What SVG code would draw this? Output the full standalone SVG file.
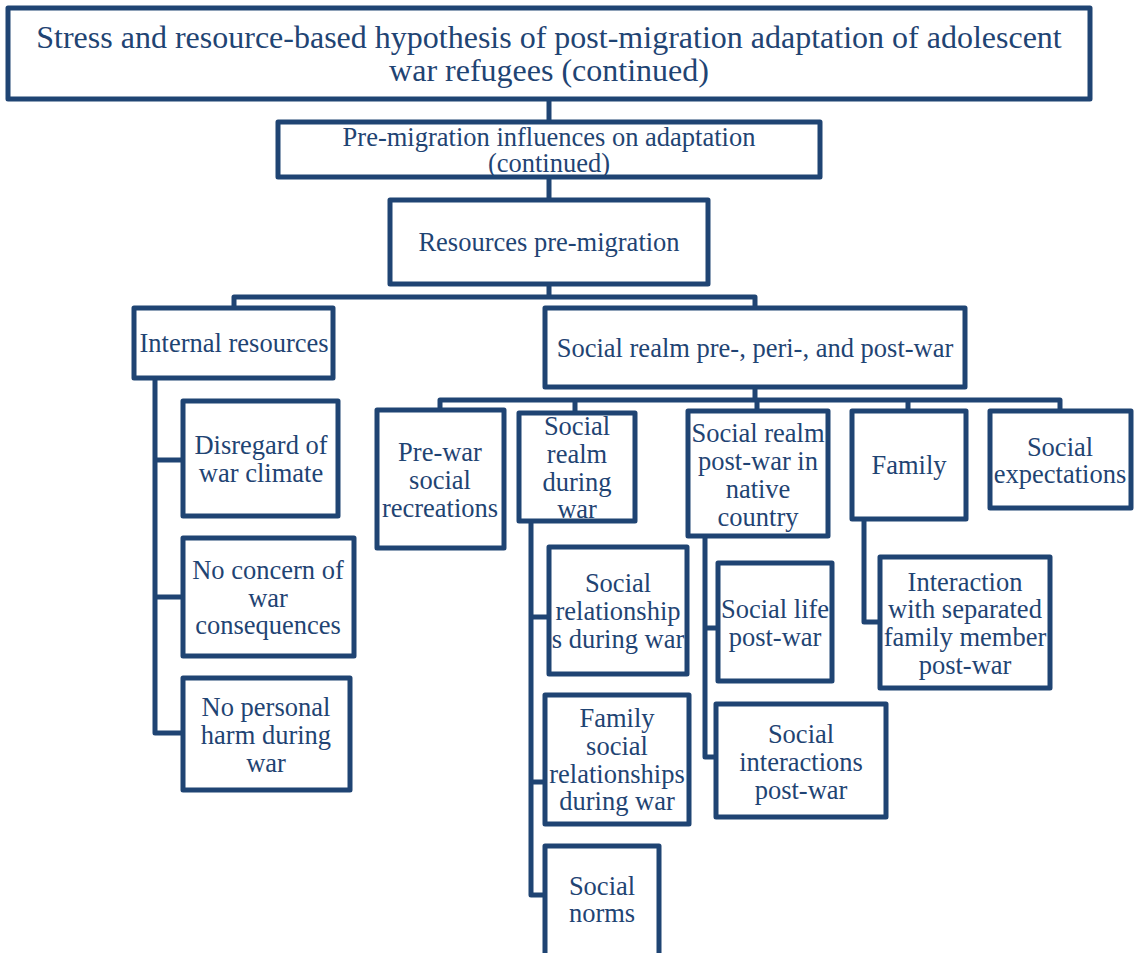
<svg xmlns="http://www.w3.org/2000/svg" width="1135" height="953" viewBox="0 0 1135 953">
  <style>
    .box { fill: #ffffff; stroke: #1F4473; stroke-width: 5; stroke-linejoin: round; }
    .wire { fill: none; stroke: #1F4473; stroke-width: 5; stroke-linejoin: round; stroke-linecap: butt; }
    text { font-family: "Liberation Serif", serif; fill: #1F4473; text-anchor: middle; dominant-baseline: central; }
    .t1 { font-size: 32px; }
    .t2 { font-size: 26.5px; }
  </style>
  <rect width="1135" height="953" fill="#ffffff"/>

  <!-- connectors -->
  <g id="connectors">
    <path class="wire" d="M549 99 V122"/>
    <path class="wire" d="M549 177 V200"/>
    <path class="wire" d="M549 284 V297 M234 308 V297 H755 V308"/>
    <path class="wire" d="M155 378 V733 H183 M155 460 H183 M155 597 H183"/>
    <path class="wire" d="M755 387 V400 M440 410 V400 H1060 V411 M575 400 V413 M757 400 V411 M908 400 V411"/>
    <path class="wire" d="M531 521 V895 H545 M531 617 H549 M531 782 H545"/>
    <path class="wire" d="M705 536 V757 H716 M705 628 H718"/>
    <path class="wire" d="M864 519 V622 H880"/>
  </g>

  <g id="n-title">
    <rect class="box" x="8" y="8" width="1082" height="91"/>
    <text class="t1" x="549" y="37">Stress and resource-based hypothesis of post-migration adaptation of adolescent</text>
    <text class="t1" x="549" y="70">war refugees (continued)</text>
  </g>

  <g id="n-premigration">
    <rect class="box" x="278" y="122" width="542" height="55"/>
    <text class="t2" x="549" y="137">Pre-migration influences on adaptation</text>
    <text class="t2" x="549" y="163">(continued)</text>
  </g>

  <g id="n-resources">
    <rect class="box" x="390" y="200" width="318" height="84"/>
    <text class="t2" x="549" y="242">Resources pre-migration</text>
  </g>

  <g id="n-internal">
    <rect class="box" x="134" y="308" width="199" height="70"/>
    <text class="t2" x="234" y="343">Internal resources</text>
  </g>

  <g id="n-social">
    <rect class="box" x="545" y="308" width="420" height="79"/>
    <text class="t2" x="755" y="348">Social realm pre-, peri-, and post-war</text>
  </g>

  <g id="n-disregard">
    <rect class="box" x="183" y="401" width="155" height="115"/>
    <text class="t2" x="261" y="445">Disregard of</text>
    <text class="t2" x="261" y="473">war climate</text>
  </g>

  <g id="n-noconcern">
    <rect class="box" x="183" y="538" width="171" height="118"/>
    <text class="t2" x="268" y="570">No concern of</text>
    <text class="t2" x="268" y="598">war</text>
    <text class="t2" x="268" y="625">consequences</text>
  </g>

  <g id="n-noharm">
    <rect class="box" x="183" y="678" width="167" height="112"/>
    <text class="t2" x="266" y="707">No personal</text>
    <text class="t2" x="266" y="735">harm during</text>
    <text class="t2" x="266" y="763">war</text>
  </g>

  <g id="n-prewar">
    <rect class="box" x="377" y="410" width="127" height="138"/>
    <text class="t2" x="440" y="452">Pre-war</text>
    <text class="t2" x="440" y="480">social</text>
    <text class="t2" x="440" y="508">recreations</text>
  </g>

  <g id="n-duringwar">
    <rect class="box" x="519" y="413" width="116" height="108"/>
    <text class="t2" x="577" y="426">Social</text>
    <text class="t2" x="577" y="454">realm</text>
    <text class="t2" x="577" y="482">during</text>
    <text class="t2" x="577" y="509">war</text>
  </g>

  <g id="n-postwar">
    <rect class="box" x="688" y="411" width="140" height="125"/>
    <text class="t2" x="758" y="433">Social realm</text>
    <text class="t2" x="758" y="461">post-war in</text>
    <text class="t2" x="758" y="489">native</text>
    <text class="t2" x="758" y="517">country</text>
  </g>

  <g id="n-family">
    <rect class="box" x="852" y="411" width="114" height="108"/>
    <text class="t2" x="909" y="465">Family</text>
  </g>

  <g id="n-expectations">
    <rect class="box" x="990" y="411" width="141" height="97"/>
    <text class="t2" x="1060" y="447">Social</text>
    <text class="t2" x="1060" y="474">expectations</text>
  </g>

  <g id="n-relationships">
    <rect class="box" x="549" y="547" width="138" height="127"/>
    <text class="t2" x="618" y="583">Social</text>
    <text class="t2" x="618" y="611">relationship</text>
    <text class="t2" x="618" y="639">s during war</text>
  </g>

  <g id="n-familysocial">
    <rect class="box" x="545" y="695" width="144" height="129"/>
    <text class="t2" x="617" y="718">Family</text>
    <text class="t2" x="617" y="746">social</text>
    <text class="t2" x="617" y="774">relationships</text>
    <text class="t2" x="617" y="801">during war</text>
  </g>

  <g id="n-norms">
    <rect class="box" x="545" y="846" width="114" height="110"/>
    <text class="t2" x="602" y="886">Social</text>
    <text class="t2" x="602" y="913">norms</text>
  </g>

  <g id="n-sociallife">
    <rect class="box" x="718" y="563" width="114" height="118"/>
    <text class="t2" x="775" y="609">Social life</text>
    <text class="t2" x="775" y="637">post-war</text>
  </g>

  <g id="n-interactions">
    <rect class="box" x="716" y="704" width="170" height="113"/>
    <text class="t2" x="801" y="734">Social</text>
    <text class="t2" x="801" y="762">interactions</text>
    <text class="t2" x="801" y="790">post-war</text>
  </g>

  <g id="n-separated">
    <rect class="box" x="880" y="557" width="170" height="131"/>
    <text class="t2" x="965" y="582">Interaction</text>
    <text class="t2" x="965" y="609">with separated</text>
    <text class="t2" x="965" y="637">family member</text>
    <text class="t2" x="965" y="665">post-war</text>
  </g>
</svg>
